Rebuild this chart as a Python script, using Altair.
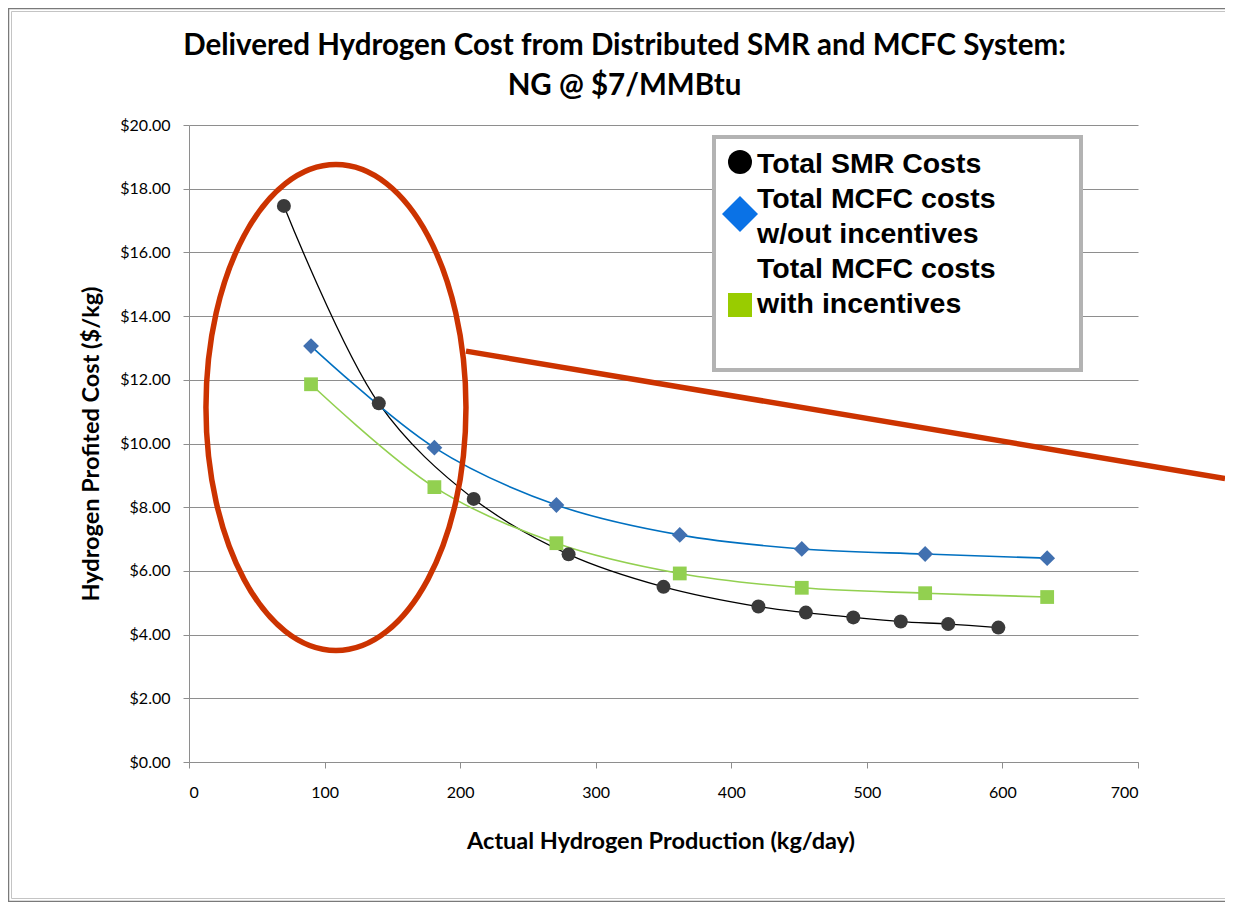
import altair as alt
import pandas as pd

# ---- data ----
smr_x = [70, 140, 210, 280, 350, 420, 455, 490, 525, 560, 597]
smr_y = [17.46, 11.26, 8.26, 6.52, 5.50, 4.88, 4.69, 4.54, 4.41, 4.33, 4.22]

mcfc_x = [90, 181, 271, 362, 452, 543, 633]
mcfc_no_inc_y = [13.06, 9.87, 8.07, 7.13, 6.69, 6.53, 6.40]
mcfc_inc_y = [11.86, 8.63, 6.87, 5.92, 5.47, 5.30, 5.18]

x_ticks = [0, 100, 200, 300, 400, 500, 600, 700]
y_ticks = [0, 2, 4, 6, 8, 10, 12, 14, 16, 18, 20]

title_lines = ["Delivered Hydrogen Cost from Distributed SMR and MCFC System:",
               "NG @ $7/MMBtu"]
legend_lines = ["Total SMR Costs", "Total MCFC costs", "w/out incentives",
                "Total MCFC costs", "with incentives"]

# annotation (red ellipse around the low-volume region and callout line)
ellipse_center_x = [108.4]
ellipse_center_y = [11.13]
callout_x = [204.3, 764.2]
callout_y = [12.90, 8.90]

smr = pd.DataFrame({"x": smr_x, "y": smr_y})
mcfc_no = pd.DataFrame({"x": mcfc_x, "y": mcfc_no_inc_y})
mcfc_in = pd.DataFrame({"x": mcfc_x, "y": mcfc_inc_y})
ellipse_df = pd.DataFrame({"x": ellipse_center_x, "y": ellipse_center_y})
callout_df = pd.DataFrame({"x": callout_x, "y": callout_y})

W, H = 949, 637
GRID = "#8e8e8e"

x_scale = alt.Scale(domain=[0, 700], nice=False, zero=False)
y_scale = alt.Scale(domain=[0, 20], nice=False)

x_axis = alt.Axis(values=x_ticks, format="d", title="Actual Hydrogen Production (kg/day)",
                  grid=False, tickSize=6, tickColor=GRID, domainColor=GRID,
                  labelPadding=16, labelFont="Lato", labelFontSize=16, labelColor="#000",
                  titleFont="Lato", titleFontSize=23.5, titleFontWeight="bold", titleColor="#000",
                  titleX=471.5, titleY=86, titleBaseline="alphabetic", titleAlign="center")
y_axis = alt.Axis(values=y_ticks, format="$.2f", title="Hydrogen Profited Cost ($/kg)",
                  grid=True, gridColor=GRID, gridWidth=1, tickSize=6, tickColor=GRID,
                  domainColor=GRID, labelPadding=13, labelFont="Lato", labelFontSize=16,
                  labelColor="#000", titleFont="Lato", titleFontSize=23.5, titleFontWeight="bold",
                  titleColor="#000", titleX=-98, titleY=H / 2, titleAngle=-90,
                  titleBaseline="middle", titleAlign="center")

X = alt.X("x:Q", scale=x_scale, axis=x_axis)
Y = alt.Y("y:Q", scale=y_scale, axis=y_axis)

one = alt.Data(values=[{}])

# outer chart-area frame (double line)
frame_outer = alt.Chart(one).mark_rect(fillOpacity=0, stroke="#7a7a7a", strokeWidth=1.5).encode(
    x=alt.value(-180.5), x2=alt.value(1100), y=alt.value(-116.5), y2=alt.value(776.5))
frame_inner = alt.Chart(one).mark_rect(fillOpacity=0, stroke="#c4c4c4", strokeWidth=1).encode(
    x=alt.value(-177.5), x2=alt.value(1100), y=alt.value(-113.5), y2=alt.value(773.5))

# chart title (two centred lines over the chart area)
title_baselines = [-70, -30]
title_marks = [
    alt.Chart(alt.Data(values=[{"t": txt}])).mark_text(
        font="Lato", fontSize=29.5, fontWeight="bold", color="#000",
        align="center", baseline="alphabetic").encode(
        text="t:N", x=alt.value(435.5), y=alt.value(b))
    for txt, b in zip(title_lines, title_baselines)
]

line_smr = alt.Chart(smr).mark_line(color="#000000", strokeWidth=1.3, interpolate="catmull-rom").encode(x=X, y=Y)
line_no = alt.Chart(mcfc_no).mark_line(color="#0070C0", strokeWidth=1.6, interpolate="catmull-rom").encode(x=X, y=Y)
line_in = alt.Chart(mcfc_in).mark_line(color="#92D050", strokeWidth=1.6, interpolate="catmull-rom").encode(x=X, y=Y)

pt_smr = alt.Chart(smr).mark_point(shape="circle", filled=True, size=196, color="#3a3a3a", opacity=1).encode(x=X, y=Y)
pt_no = alt.Chart(mcfc_no).mark_point(shape="diamond", filled=True, size=250, color="#4170B0", opacity=1).encode(x=X, y=Y)
pt_in = alt.Chart(mcfc_in).mark_point(shape="square", filled=True, size=190, color="#92D050", opacity=1).encode(x=X, y=Y)

# red ellipse: custom symbol path in unit coordinates (rx/ry = 0.535)
a = 0.535
k = 0.5523
ellipse_path = (
    f"M0,-1 C{k*a:.4f},-1 {a},{-k:.4f} {a},0 "
    f"C{a},{k:.4f} {k*a:.4f},1 0,1 "
    f"C{-k*a:.4f},1 {-a},{k:.4f} {-a},0 "
    f"C{-a},{-k:.4f} {-k*a:.4f},-1 0,-1 Z"
)
ellipse = alt.Chart(ellipse_df).mark_point(shape=ellipse_path, filled=False, size=486 ** 2,
                                           color="#CC3300", strokeWidth=5.5, opacity=1).encode(x=X, y=Y)
callout = alt.Chart(callout_df).mark_line(color="#CC3300", strokeWidth=5.5, strokeCap="butt").encode(x=X, y=Y)

# legend box
leg_box = alt.Chart(one).mark_rect(fill="white", stroke="#b3b3b3", strokeWidth=4).encode(
    x=alt.value(525), x2=alt.value(892), y=alt.value(12), y2=alt.value(245))
leg_sym = [
    alt.Chart(one).mark_point(shape="circle", filled=True, size=576, color="#000000", opacity=1).encode(
        x=alt.value(551), y=alt.value(37)),
    alt.Chart(one).mark_point(shape="diamond", filled=True, size=1296, color="#0A72E6", opacity=1).encode(
        x=alt.value(551), y=alt.value(89)),
    alt.Chart(one).mark_point(shape="square", filled=True, size=576, color="#99CC00", opacity=1).encode(
        x=alt.value(551), y=alt.value(180)),
]
leg_baselines = [48, 83, 118, 153, 188]
leg_text = [
    alt.Chart(alt.Data(values=[{"t": txt}])).mark_text(
        font="Liberation Sans", fontSize=28.5, fontWeight="bold", color="#000",
        align="left", baseline="alphabetic").encode(
        text="t:N", x=alt.value(568), y=alt.value(b))
    for txt, b in zip(legend_lines, leg_baselines)
]

chart = alt.layer(
    frame_outer, frame_inner, *title_marks,
    line_smr, line_no, line_in,
    pt_smr, pt_no, pt_in,
    ellipse, callout,
    leg_box, *leg_sym, *leg_text,
).properties(
    width=W, height=H,
    padding={"left": 181, "top": 117, "right": 87, "bottom": 140},
    autosize=alt.AutoSizeParams(type="none"),
    background="white",
).configure_view(strokeWidth=0)

chart.save("out.html", embed_options={"renderer": "svg", "actions": False})
